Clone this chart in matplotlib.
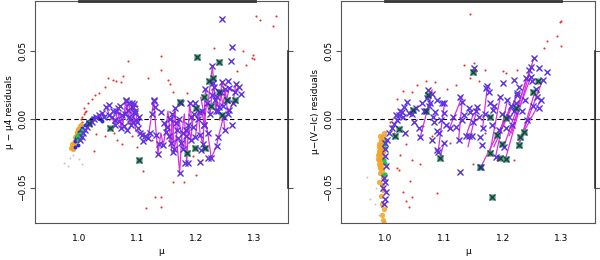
"""Residual plots: mu - mu4 and mu - (V-Ic) against mu."""
import matplotlib

matplotlib.use("Agg")
import matplotlib.pyplot as plt

# ---------------- left panel data ----------------
left_red_x = [1.303, 1.337, 1.310, 1.332, 1.297, 1.296, 1.299, 1.280, 1.084, 1.140, 1.110, 1.130,
              1.140, 1.115, 1.140, 1.160, 1.180, 1.200, 1.059, 1.064, 1.071, 1.075, 1.050, 1.045,
              1.035, 1.028, 1.022, 1.015, 1.008, 1.118, 1.152, 1.155, 1.185, 1.160, 1.099, 1.083,
              1.060, 1.045, 1.065, 1.073, 1.090, 1.110, 1.100, 1.025, 1.030, 1.125, 1.195, 1.250,
              1.240, 1.270, 1.230, 1.285, 1.140, 1.003, 1.006, 1.008, 1.010, 1.012, 1.005]
left_red_y = [0.0756, 0.0756, 0.0730, 0.0680, 0.0470, 0.0450, 0.0440, 0.0500, 0.0427, 0.0466,
              -0.0376, -0.0566, -0.0570, -0.0650, -0.0640, -0.0460, -0.0460, -0.0410, 0.0290,
              0.0280, 0.0270, 0.0320, 0.0300, 0.0240, 0.0190, 0.0180, 0.0150, 0.0120, 0.0080,
              0.0300, 0.0290, 0.0260, 0.0190, 0.0200, 0.0100, -0.0025, -0.0100, -0.0120, -0.0150,
              -0.0180, -0.0120, -0.0100, -0.0200, -0.0230, -0.0110, -0.0150, -0.0270, 0.0250,
              0.0000, 0.0350, 0.0520, 0.0400, 0.0360, 0.0000, 0.0020, 0.0040, 0.0050, 0.0060,
              -0.0020]

left_orange_x = [0.988, 0.990, 0.989, 0.991, 0.993, 0.992, 0.994, 0.996, 0.997, 0.999, 1.001,
                 1.003, 0.990, 0.987, 0.995, 1.000]
left_orange_y = [-0.020, -0.021, -0.018, -0.017, -0.016, -0.019, -0.013, -0.011, -0.009, -0.007,
                 -0.005, -0.004, -0.022, -0.021, -0.015, -0.008]

left_faint_x = [0.975, 0.982, 0.985, 1.000, 1.005, 0.990]
left_faint_y = [-0.032, -0.034, -0.028, -0.029, -0.033, -0.026]

left_gdot_x = [0.996, 0.998, 1.000, 1.002, 1.004, 0.999, 1.003, 1.006]
left_gdot_y = [-0.012, -0.013, -0.011, -0.012, -0.010, -0.015, -0.014, -0.008]

left_bdot_x = [0.993, 0.995, 0.997, 1.000, 1.003, 1.006, 1.010, 1.013, 1.017, 1.020, 1.024,
               1.028, 1.032, 1.036, 1.040, 0.998, 0.994]
left_bdot_y = [-0.016, -0.014, -0.012, -0.009, -0.008, -0.006, -0.004, -0.003, -0.001, 0.000,
               0.001, 0.002, 0.001, 0.000, -0.001, -0.019, -0.020]

left_cross_x = [1.002, 1.005, 1.007, 1.010, 1.014, 1.018, 1.022, 1.026, 1.030, 1.034, 1.039,
                1.043, 1.047, 1.052, 1.056, 1.061, 1.069, 1.073, 1.080, 1.084, 1.090, 1.093,
                1.095, 1.098, 1.101, 1.104, 1.107, 1.118, 1.128, 1.130, 1.132, 1.135, 1.144,
                1.148, 1.151, 1.161, 1.164, 1.166, 1.169, 1.172, 1.175, 1.177, 1.181, 1.186,
                1.189, 1.192, 1.195, 1.199, 1.206, 1.205, 1.207, 1.209, 1.212, 1.216, 1.220,
                1.221, 1.226, 1.228, 1.229, 1.232, 1.235, 1.238, 1.240, 1.244, 1.245, 1.247,
                1.249, 1.255, 1.257, 1.259, 1.261, 1.261, 1.266, 1.273, 1.276, 1.252, 1.257,
                1.052, 1.081, 1.094, 1.129, 1.175, 1.198, 1.064, 1.077, 1.086, 1.110, 1.140,
                1.155, 1.183, 1.213, 1.237,
                1.058, 1.062, 1.066, 1.070, 1.072, 1.078, 1.082, 1.085, 1.087, 1.089, 1.092,
                1.096, 1.100, 1.103, 1.112, 1.121, 1.125, 1.137, 1.146, 1.153, 1.157, 1.159,
                1.163, 1.168, 1.171, 1.178, 1.182, 1.187, 1.191, 1.196, 1.203, 1.210, 1.214,
                1.218, 1.224, 1.227, 1.231, 1.234, 1.236, 1.242, 1.246, 1.250, 1.254, 1.263,
                1.268]
left_cross_y = [-0.0150, -0.0127, -0.0100, -0.0078, -0.0054, -0.0034, -0.0017, 0.0000, 0.0020,
                0.0030, 0.0044, 0.0015, 0.0088, 0.0030, 0.0015, -0.0005, -0.0010, 0.0030,
                0.0137, 0.0068, 0.0117, 0.0088, 0.0044, -0.0005, -0.0066, -0.0098, -0.0115,
                -0.0139, 0.0141, 0.0093, -0.0115, -0.0254, -0.0188, -0.0090, -0.0054, -0.0237,
                0.0080, -0.0029, -0.0139, -0.0390, -0.0176, -0.0098, -0.0322, -0.0322, 0.0117,
                0.0020, -0.0054, -0.0127, -0.0315, 0.0056, -0.0115, -0.0224, -0.0180, 0.0220,
                -0.0100, -0.0285, -0.0285, 0.0393, 0.0263, 0.0141, -0.0193, -0.0132, 0.0093,
                0.0276, 0.0732, 0.0020, -0.0078, 0.0280, 0.0232, 0.0424, 0.0527, -0.0041,
                0.0202, 0.0239, 0.0183, 0.0141, 0.0068, 0.0105, 0.0141, 0.0112, 0.0136,
                0.0117, 0.0119, 0.0060, -0.0050, 0.0020, -0.0160, 0.0050, 0.0000, -0.0080,
                -0.0040, 0.0060,
                0.0060, -0.0040, 0.0080, 0.0100, -0.0060, 0.0040, -0.0080, 0.0120, 0.0000,
                -0.0040, -0.0020, 0.0060, -0.0020, 0.0020, -0.0120, -0.0100, 0.0040, -0.0180,
                -0.0030, -0.0120, -0.0170, 0.0040, -0.0220, -0.0080, 0.0000, -0.0220, -0.0120,
                -0.0040, -0.0150, 0.0040, 0.0000, 0.0060, -0.0040, 0.0120, 0.0040, 0.0180,
                0.0240, 0.0060, 0.0160, 0.0200, 0.0100, 0.0220, 0.0040, 0.0120, 0.0260]

left_green_x = [1.202, 1.240, 1.229, 1.222, 1.213, 1.240, 1.252, 1.266, 1.172, 1.200, 1.185,
                1.198, 1.102, 1.053, 1.215, 1.018, 1.225, 1.245]
left_green_y = [0.0459, 0.0417, 0.0300, 0.0280, 0.0166, 0.0200, 0.0140, 0.0140, 0.0130, 0.0080,
                -0.0250, -0.0210, -0.0300, -0.0060, -0.0210, -0.0030, 0.0100, 0.0030]

left_track_x = [
    [1.014, 1.022, 1.030, 1.039, 1.043],
    [1.047, 1.052, 1.058, 1.064, 1.070, 1.075, 1.080, 1.084, 1.088, 1.090, 1.093, 1.097, 1.101,
     1.107],
    [1.056, 1.062, 1.066, 1.072, 1.078, 1.085, 1.089, 1.092, 1.096, 1.100, 1.103],
    [1.118, 1.128, 1.131, 1.135, 1.140, 1.144, 1.148, 1.152, 1.158, 1.164, 1.167, 1.172, 1.176,
     1.180, 1.184, 1.189, 1.194],
    [1.146, 1.153, 1.157, 1.159, 1.163, 1.168, 1.171, 1.178, 1.182, 1.187, 1.191, 1.196],
    [1.199, 1.204, 1.207, 1.212, 1.216, 1.220, 1.228, 1.232, 1.240, 1.244, 1.252, 1.257, 1.266,
     1.273],
    [1.203, 1.210, 1.214, 1.218, 1.224, 1.227, 1.231, 1.234, 1.236, 1.242, 1.246, 1.250, 1.254,
     1.263, 1.268],
    [1.208, 1.220, 1.226, 1.235, 1.238, 1.247, 1.249],
]
left_track_y = [
    [-0.0054, -0.0017, 0.0020, 0.0044, 0.0015],
    [0.0088, 0.0030, 0.0000, -0.0020, 0.0050, -0.0040, 0.0137, 0.0040, -0.0030, 0.0117, 0.0020,
     -0.0080, -0.0100, -0.0115],
    [0.0015, -0.0040, 0.0080, -0.0060, 0.0040, 0.0120, -0.0040, -0.0020, 0.0060, -0.0020,
     0.0020],
    [-0.0140, 0.0141, -0.0050, -0.0254, -0.0100, -0.0188, -0.0090, 0.0060, -0.0220, 0.0080,
     -0.0150, -0.0390, -0.0100, 0.0040, -0.0320, 0.0117, -0.0050],
    [-0.0030, -0.0120, -0.0170, 0.0040, -0.0220, -0.0080, 0.0000, -0.0220, -0.0120, -0.0040,
     -0.0150, 0.0040],
    [-0.0127, 0.0050, -0.0115, -0.0180, 0.0220, 0.0100, 0.0393, 0.0141, 0.0093, 0.0276, 0.0141,
     0.0232, 0.0202, 0.0239],
    [0.0000, 0.0060, -0.0040, 0.0120, 0.0040, 0.0180, 0.0240, 0.0060, 0.0160, 0.0200, 0.0100,
     0.0220, 0.0040, 0.0120, 0.0260],
    [0.0160, -0.0100, -0.0285, -0.0193, -0.0132, 0.0020, -0.0078],
]

# ---------------- right panel data ----------------
right_red_x = [1.145, 1.297, 1.300, 1.293, 1.299, 1.276, 1.270, 1.151, 1.135, 1.155, 1.170,
               1.200, 1.205, 1.225, 1.240, 1.160, 1.145, 1.120, 1.105, 1.085, 1.070, 1.055,
               1.045, 1.030, 1.020, 1.055, 1.065, 1.080, 1.035, 1.025, 1.020, 1.023, 1.030,
               1.035, 1.040, 1.045, 1.088, 1.042, 1.060, 1.110, 1.150, 1.170, 1.190, 1.220,
               1.260, 1.015, 1.010, 1.008, 1.012, 1.045]
right_red_y = [0.0770, 0.0710, 0.0720, 0.0610, 0.0540, 0.0570, 0.0520, 0.0410, 0.0400, 0.0350,
               0.0360, 0.0350, 0.0340, 0.0360, 0.0300, 0.0280, 0.0300, 0.0250, 0.0220, 0.0270,
               0.0280, 0.0250, 0.0200, 0.0210, 0.0150, 0.0100, -0.0050, -0.0120, -0.0180,
               -0.0260, -0.0360, -0.0370, -0.0530, -0.0600, -0.0640, -0.0570, -0.0540, -0.0450,
               -0.0330, -0.0170, -0.0330, -0.0100, -0.0300, -0.0300, 0.0200, -0.0100, -0.0050,
               -0.0020, 0.0000, -0.0300]

right_orange_x = [0.998, 0.996, 0.994, 0.993, 0.991, 0.990, 0.990, 0.989, 0.991, 0.992, 0.994,
                  0.995, 0.993, 0.995, 0.996, 0.988, 0.989, 0.997, 0.992, 0.996, 0.994, 0.997,
                  0.993, 0.995, 0.998, 0.994, 0.996, 0.992, 0.998, 0.990, 0.992, 0.994, 0.996,
                  0.990, 0.993, 0.995, 0.997, 0.991, 0.989, 0.991, 0.993, 0.995, 0.988, 0.990,
                  0.992, 0.994]
right_orange_y = [-0.010, -0.013, -0.016, -0.019, -0.022, -0.025, -0.028, -0.030, -0.032,
                  -0.034, -0.036, -0.038, -0.027, -0.024, -0.020, -0.026, -0.033, -0.016,
                  -0.039, -0.043, -0.048, -0.052, -0.056, -0.062, -0.066, -0.070, -0.074,
                  -0.077, -0.076, -0.046, -0.012, -0.021, -0.029, -0.020, -0.031, -0.017,
                  -0.024, -0.036, -0.023, -0.027, -0.015, -0.032, -0.029, -0.018, -0.025,
                  -0.030]

right_faint_x = [0.970, 0.975, 0.985, 0.982, 0.990]
right_faint_y = [-0.042, -0.058, -0.050, -0.062, -0.070]

right_gdot_x = [0.999, 1.000, 0.998, 0.999, 0.997, 1.000, 1.002]
right_gdot_y = [-0.018, -0.021, -0.030, -0.032, -0.041, -0.040, -0.015]

right_cross_x = [1.000, 0.999, 1.001, 0.998, 1.000, 0.997, 1.001, 0.999, 0.998, 1.000,
                 1.004, 1.007, 1.011, 1.015, 1.020, 1.024, 1.028, 1.032, 1.037, 1.034, 1.040,
                 1.057, 1.063, 1.073, 1.080, 1.071, 1.077, 1.081, 1.080, 1.083, 1.089, 1.088,
                 1.095, 1.100, 1.101, 1.090, 1.100, 1.120, 1.128, 1.131, 1.128, 1.142, 1.148,
                 1.151, 1.157, 1.162, 1.165, 1.171, 1.174, 1.176, 1.179, 1.184, 1.188, 1.196,
                 1.201, 1.208, 1.211, 1.219, 1.219, 1.225, 1.242, 1.245, 1.248, 1.253, 1.256,
                 1.262, 1.265, 1.276, 1.088, 1.060, 1.125, 1.131, 1.163, 1.225, 1.202, 1.248,
                 1.268, 1.110, 1.145,
                 1.045, 1.050, 1.053, 1.067, 1.075, 1.085, 1.092, 1.097, 1.104, 1.115, 1.135,
                 1.138, 1.143, 1.150, 1.155, 1.160, 1.166, 1.170, 1.182, 1.186, 1.193, 1.198,
                 1.205, 1.214, 1.216, 1.222, 1.228, 1.232, 1.238, 1.240, 1.252, 1.258, 1.261,
                 1.250, 1.018, 1.026, 1.030]
right_cross_y = [-0.0220, -0.0270, -0.0340, -0.0430, -0.0460, -0.0500, -0.0530, -0.0580,
                 -0.0620, -0.0170, -0.0150, -0.0100, -0.0066, -0.0034, -0.0005, 0.0032,
                 0.0056, 0.0093, 0.0129, -0.0098, 0.0044, -0.0066, 0.0117, 0.0215, 0.0183,
                 0.0154, 0.0117, 0.0020, -0.0151, -0.0017, -0.0083, 0.0141, -0.0005, 0.0044,
                 0.0117, -0.0241, -0.0176, -0.0054, 0.0166, -0.0005, -0.0383, -0.0122,
                 -0.0122, 0.0373, 0.0093, -0.0127, -0.0188, 0.0227, 0.0244, 0.0202, 0.0117,
                 0.0068, -0.0273, 0.0166, 0.0263, 0.0141, 0.0020, 0.0288, 0.0061, 0.0190,
                 -0.0005, 0.0361, 0.0312, 0.0451, 0.0220, 0.0373, 0.0141, 0.0344, -0.0224,
                 -0.0127, -0.0152, 0.0129, -0.0347, 0.0178, -0.0200, 0.0385, 0.0288, -0.0060,
                 0.0050,
                 0.0040, -0.0020, 0.0080, 0.0060, 0.0100, 0.0050, -0.0100, 0.0120, -0.0040,
                 0.0020, 0.0030, -0.0120, 0.0080, -0.0020, 0.0060, 0.0020, -0.0060, 0.0040,
                 -0.0040, 0.0100, -0.0080, 0.0040, -0.0060, 0.0100, -0.0040, 0.0120, 0.0240,
                 0.0060, 0.0140, 0.0300, 0.0100, 0.0160, 0.0080, 0.0280, 0.0030, 0.0060,
                 0.0020]

right_green_x = [1.048, 1.023, 1.016, 1.093, 1.073, 1.149, 1.162, 1.178, 1.191, 1.199, 1.205,
                 1.228, 1.230, 1.236, 1.252, 1.182, 1.222, 1.260, 1.178, 1.195, 1.205, 1.070]
right_green_y = [0.0068, -0.0073, -0.0120, -0.0285, 0.0180, 0.0349, -0.0346, -0.0249, -0.0115,
                 -0.0183, -0.0293, -0.0188, -0.0127, -0.0090, 0.0202, -0.0566, 0.0080, 0.0280,
                 0.0020, -0.0280, 0.0010, 0.0060]

right_seg_x0 = [1.071, 1.090, 1.093, 1.060, 1.110, 1.125, 1.141, 1.163, 1.178, 1.188, 1.205,
                1.202, 1.225, 1.211, 1.228, 1.236, 1.040, 1.185, 1.215, 1.196, 1.138, 1.166,
                1.045]
right_seg_y0 = [0.0154, -0.0241, -0.0285, -0.0127, -0.0060, -0.0152, -0.0200, -0.0347, -0.0249,
                -0.0273, -0.0286, -0.0200, -0.0200, -0.0120, -0.0188, -0.0090, 0.0044, -0.0200,
                -0.0100, -0.0080, -0.0120, -0.0060, 0.0040]
right_seg_x1 = [1.080, 1.101, 1.100, 1.080, 1.131, 1.131, 1.157, 1.225, 1.196, 1.208, 1.253,
                1.248, 1.268, 1.248, 1.256, 1.265, 1.048, 1.222, 1.240, 1.214, 1.150, 1.174,
                1.053]
right_seg_y1 = [0.0215, 0.0117, -0.0176, 0.0202, 0.0166, 0.0129, 0.0093, 0.0178, 0.0166,
                0.0141, 0.0451, 0.0385, 0.0288, 0.0312, 0.0220, 0.0141, 0.0068, 0.0150,
                0.0300, 0.0100, 0.0040, 0.0244, 0.0080]

xticks = [1.0, 1.1, 1.2, 1.3]
yticks = [-0.05, 0.0, 0.05]
ytick_labels = ["\u22120.05", "0.00", "0.05"]

RED = "#e8302c"
ORANGE = "#f2a52a"
GREEN = "#3f9f5c"
BLUE = "#2b2bd9"
MAGENTA = "#dc2fe0"
FRAME = "#555555"


def draw_panel(ax, red, orange, faint, gdot, bdot, cross, green, tracks, segs, ylabel):
    ax.plot(*faint, "o", ms=1.4, color="#b8c8d0", mec="none")
    ax.plot(*red, "o", ms=1.5, color=RED, mec="none")
    ax.plot(*orange, "o", ms=3.8, color=ORANGE, mec="none", alpha=0.9)
    if bdot is not None:
        ax.plot(*bdot, "o", ms=2.8, color=BLUE, mec="none")
    ax.plot(*gdot, "o", ms=3.0, color="#27c24a", mec="none")
    if tracks is not None:
        for tx, ty in zip(*tracks):
            ax.plot(tx, ty, "-", color=MAGENTA, lw=0.9, zorder=3)
    if segs is not None:
        for x0, y0, x1, y1 in zip(*segs):
            ax.plot([x0, x1], [y0, y1], "-", color=MAGENTA, lw=0.9, zorder=3)
    ax.plot(*green, "s", ms=4.4, color=GREEN, mec="none", zorder=4)
    ax.plot(*green, "x", ms=3.8, mew=0.9, color="#1e3a5a", zorder=5)
    ax.plot(*cross, "x", ms=4.2, mew=0.9, color=BLUE, zorder=4)
    ax.plot(*cross, "x", ms=2.6, mew=0.7, color="#7b2ee0", zorder=4.5)

    ax.axhline(0, color="black", lw=0.8, ls=(0, (4, 3)), zorder=2)
    ax.set_xlim(0.925, 1.357)
    ax.set_ylim(-0.0759, 0.0866)
    ax.set_xticks(xticks)
    ax.set_xticklabels([f"{t:.1f}" for t in xticks], fontsize=6.5)
    ax.set_yticks(yticks)
    ax.set_yticklabels(ytick_labels, fontsize=6.5, rotation=90, va="center")
    ax.tick_params(axis="x", length=0, pad=8)
    ax.tick_params(axis="y", length=3.5, width=0.8, color=FRAME, pad=2,
                   right=True, direction="out")
    for s in ax.spines.values():
        s.set_color(FRAME)
        s.set_linewidth(0.8)
    # R style axis lines spanning the tick range
    ax.plot([min(xticks), max(xticks)], [1, 1], color="#333333", lw=2.0,
            transform=ax.get_xaxis_transform(), clip_on=False, zorder=6)
    ax.plot([1, 1], [min(yticks), max(yticks)], color="#333333", lw=1.2,
            transform=ax.get_yaxis_transform(), clip_on=False, zorder=6)
    ax.set_xlabel("\u03bc", fontsize=6.5, labelpad=3)
    ax.set_ylabel(ylabel, fontsize=6.5, labelpad=3)


fig = plt.figure(figsize=(6, 2.6), dpi=100)
ax1 = fig.add_axes([35 / 600, 37 / 260, 253 / 600, 222 / 260])
ax2 = fig.add_axes([341 / 600, 37 / 260, 254 / 600, 222 / 260])

draw_panel(ax1, (left_red_x, left_red_y), (left_orange_x, left_orange_y),
           (left_faint_x, left_faint_y), (left_gdot_x, left_gdot_y),
           (left_bdot_x, left_bdot_y), (left_cross_x, left_cross_y),
           (left_green_x, left_green_y), (left_track_x, left_track_y), None,
           "\u03bc \u2212 \u03bc4 residuals")
draw_panel(ax2, (right_red_x, right_red_y), (right_orange_x, right_orange_y),
           (right_faint_x, right_faint_y), (right_gdot_x, right_gdot_y), None,
           (right_cross_x, right_cross_y), (right_green_x, right_green_y), None,
           (right_seg_x0, right_seg_y0, right_seg_x1, right_seg_y1),
           "\u03bc\u2212(V\u2212Ic) residuals")

fig.savefig("out.png", dpi=100)
